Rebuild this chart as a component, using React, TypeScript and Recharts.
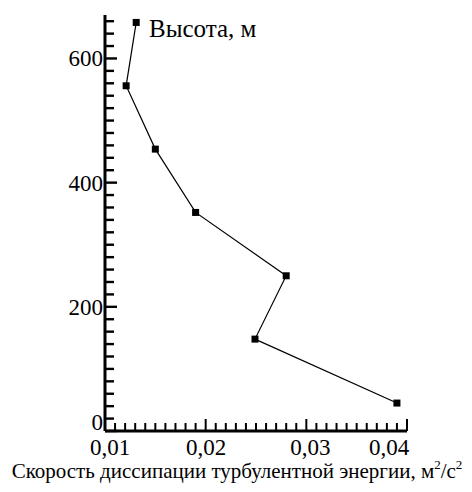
import { LineChart, Line, XAxis, YAxis } from "recharts";

// высота, м
const heights = [658, 556, 454, 352, 250, 148, 45];
// скорость диссипации, м2/с2
const dissipation = [0.0131, 0.0121, 0.015, 0.019, 0.028, 0.0249, 0.039];

const xMajorTicks = [0.01, 0.02, 0.03, 0.04];
const xTickLabels = ["0,01", "0,02", "0,03", "0,04"];
const yMajorTicks = [0, 200, 400, 600];
const yTickLabels = ["0", "200", "400", "600"];

// minor ticks: every 0.001 on x, every 20 m on y
const xMinorTicks = Array.from({ length: 31 }, (_, i) => (10 + i) / 1000);
const yMinorTicks = Array.from({ length: 34 }, (_, i) => i * 20);

const data = heights.map((h, i) => ({ x: dissipation[i], y: h }));

const FONT = "Liberation Serif";

// small nudges so the labels sit where the original puts them
const xLabelShift = [5, 0.5, 4, -18];

function XTick(props: any) {
  const x = Number(props.x);
  const y = Number(props.y);
  const idx = xMajorTicks.findIndex((t) => Math.abs(t - props.payload.value) < 1e-6);
  const major = idx >= 0;
  const len = major ? 12 : 8;
  return (
    <g>
      <line x1={x} y1={y} x2={x} y2={y - len} stroke="#000" strokeWidth={2} />
      {major && (
        <text
          x={x + xLabelShift[idx]}
          y={y + 24}
          textAnchor="middle"
          fontFamily={FONT}
          fontSize={23}
          fill="#000"
        >
          {xTickLabels[idx]}
        </text>
      )}
    </g>
  );
}

function YTick(props: any) {
  const x = Number(props.x);
  const y = Number(props.y);
  const idx = yMajorTicks.indexOf(props.payload.value);
  const major = idx >= 0;
  const len = major ? 12 : 9;
  return (
    <g>
      <line x1={x} y1={y} x2={x + len} y2={y} stroke="#000" strokeWidth={2.4} />
      {major && (
        <text
          x={x - 2}
          y={props.payload.value === 0 ? y - 1 : y + 8}
          textAnchor="end"
          fontFamily={FONT}
          fontSize={23}
          fill="#000"
        >
          {yTickLabels[idx]}
        </text>
      )}
    </g>
  );
}

function SquareDot(props: any) {
  const { cx, cy, index } = props;
  return <rect key={index} x={cx - 3.5} y={cy - 3.5} width={7} height={7} fill="#000" />;
}

export default function App() {
  return (
    <div style={{ position: "absolute", left: 0, top: 0, width: 472, height: 492, background: "#fff" }}>
      <LineChart width={472} height={492} data={data} margin={{ top: 15, right: 65, bottom: 31, left: 45 }}>
        <XAxis
          dataKey="x"
          type="number"
          domain={[0.01, 0.04]}
          ticks={xMinorTicks}
          interval={0}
          height={30}
          tickSize={0}
          tickMargin={0}
          tickLine={false}
          tick={(p: any) => <XTick {...p} />}
          axisLine={{ stroke: "#000", strokeWidth: 3 }}
        />
        <YAxis
          dataKey="y"
          type="number"
          domain={[0, 670]}
          ticks={yMinorTicks}
          interval={0}
          width={60}
          tickSize={0}
          tickMargin={0}
          tickLine={false}
          tick={(p: any) => <YTick {...p} />}
          axisLine={{ stroke: "#000", strokeWidth: 3 }}
        />
        <Line
          type="linear"
          dataKey="y"
          stroke="#000"
          strokeWidth={1.2}
          dot={<SquareDot />}
          activeDot={false}
          isAnimationActive={false}
        />
      </LineChart>
      <svg
        width={472}
        height={492}
        style={{ position: "absolute", left: 0, top: 0, pointerEvents: "none" }}
      >
        <text x={149} y={37} fontFamily={FONT} fontSize={25} fill="#000">
          Высота, м
        </text>
        <text x={237} y={478} textAnchor="middle" fontFamily={FONT} fontSize={21} fill="#000">
          Скорость диссипации турбулентной энергии, м
          <tspan dy={-9} fontSize={13}>2</tspan>
          <tspan dy={9}>/с</tspan>
          <tspan dy={-9} fontSize={13}>2</tspan>
        </text>
      </svg>
    </div>
  );
}
